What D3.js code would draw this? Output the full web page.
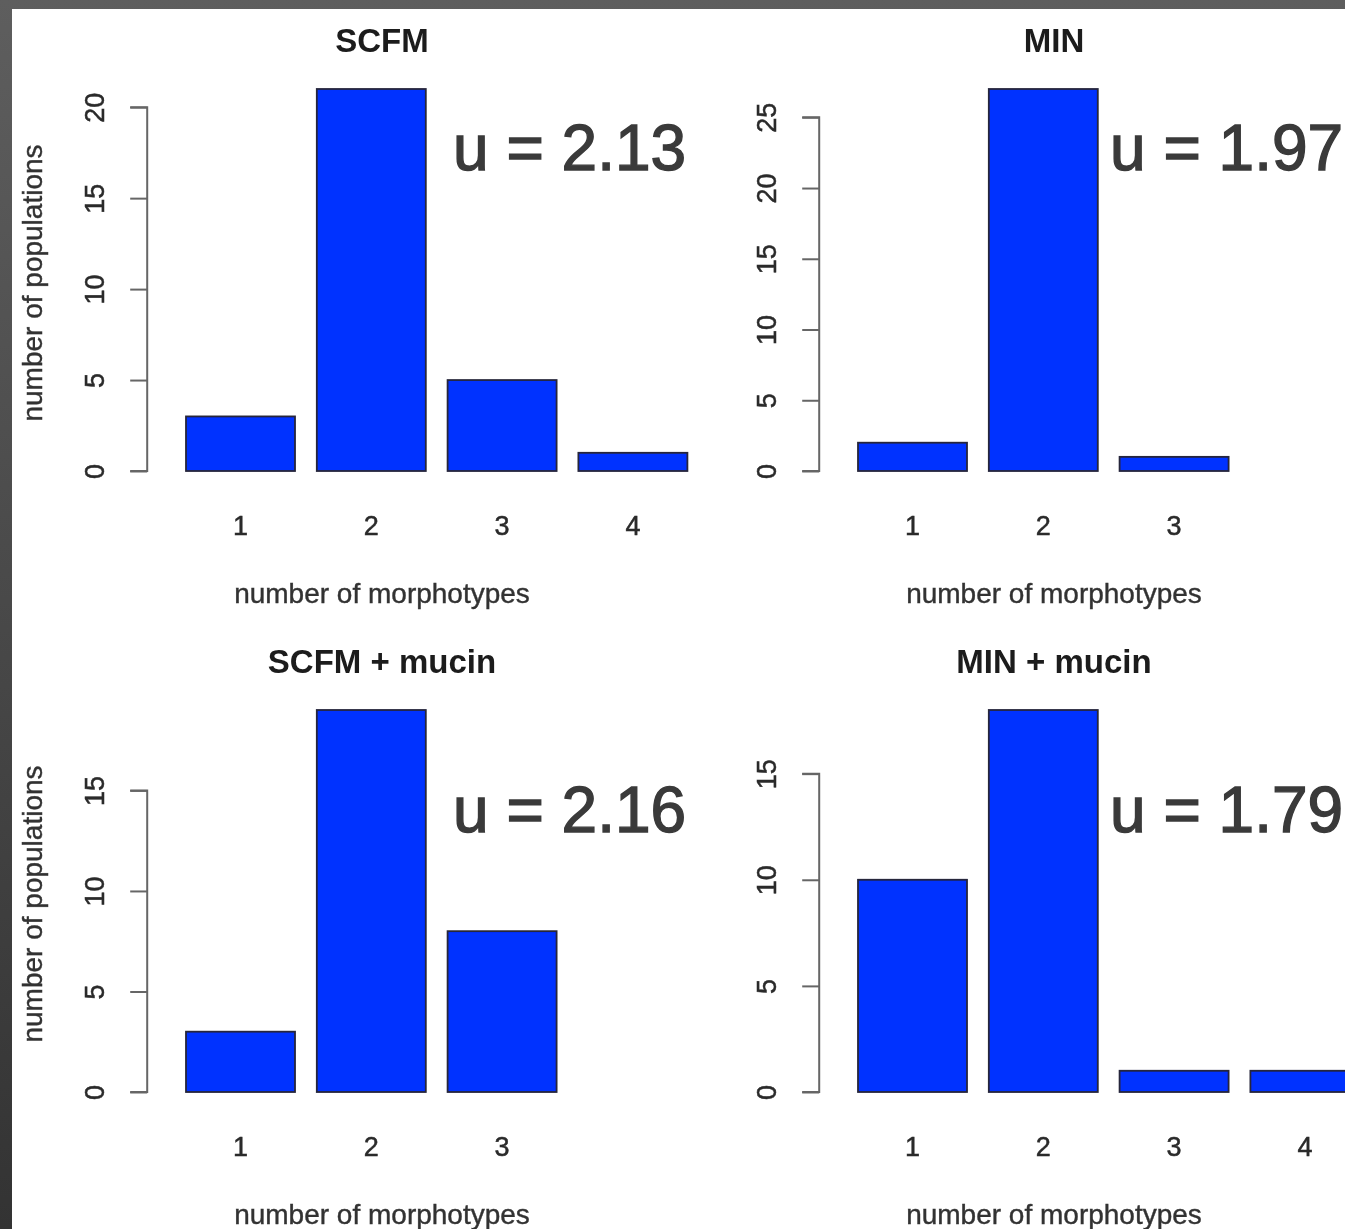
<!DOCTYPE html>
<html>
<head>
<meta charset="utf-8">
<script src="https://cdn.jsdelivr.net/npm/d3@7"></script>
<style>
  html, body { margin: 0; padding: 0; background: #444; }
  svg { display: block; }
</style>
</head>
<body>
<svg id="chart" width="1345" height="1229"></svg>
<script>
// Morphotype counts per population, one panel per growth medium
const panelTitles = ["SCFM", "MIN", "SCFM + mucin", "MIN + mucin"];
const morphotypes = [
  ["1", "2", "3", "4"],
  ["1", "2", "3"],
  ["1", "2", "3"],
  ["1", "2", "3", "4"]
];
const scfmCounts      = [3, 21, 5, 1];
const minCounts       = [2, 27, 1];
const scfmMucinCounts = [3, 19, 8];
const minMucinCounts  = [10, 18, 1, 1];
const yTicks = [
  [0, 5, 10, 15, 20],
  [0, 5, 10, 15, 20, 25],
  [0, 5, 10, 15],
  [0, 5, 10, 15]
];
const meanLabels = ["u = 2.13", "u = 1.97", "u = 2.16", "u = 1.79"];
const xTitle = "number of morphotypes";
const yTitle = "number of populations";

const counts = [scfmCounts, minCounts, scfmMucinCounts, minMucinCounts];

const svg = d3.select("#chart");
const W = 1345, H = 1229;

// dark frame behind the white sheet
const defs = svg.append("defs");
const grad = defs.append("linearGradient").attr("id", "frame")
  .attr("x1", 0).attr("y1", 0).attr("x2", 0).attr("y2", 1);
grad.append("stop").attr("offset", 0).attr("stop-color", "#5e5e5e");
grad.append("stop").attr("offset", 1).attr("stop-color", "#333333");
defs.append("filter").attr("id", "soft")
  .append("feGaussianBlur").attr("stdDeviation", 0.55);

svg.append("rect").attr("width", W).attr("height", H).attr("fill", "url(#frame)");
svg.append("rect").attr("x", 12).attr("y", 9).attr("width", W - 12).attr("height", H - 9)
  .attr("fill", "#ffffff");

// panel geometry (R barplot style: bar width 1, space 0.2)
const barUnit = 109;
const colX = [164.2, 836.2];   // x of bar-coordinate 0
const rowBase = [471, 1092];   // y of count 0
const meanBaseline = [170, 832];
const barTopPx = 382;          // height of tallest bar
const font = "'Liberation Sans', Arial, Helvetica, sans-serif";

counts.forEach((vals, p) => {
  const col = p % 2, row = Math.floor(p / 2);
  const x0 = colX[col];
  const base = rowBase[row];

  const x = d3.scaleLinear().domain([0, 1]).range([x0, x0 + barUnit]);
  const y = d3.scaleLinear().domain([0, d3.max(vals)]).range([base, base - barTopPx]);

  const g = svg.append("g").attr("filter", "url(#soft)");

  // bars
  g.selectAll("rect.bar").data(vals).join("rect")
    .attr("class", "bar")
    .attr("x", (d, i) => x(0.2 + i * 1.2))
    .attr("width", x(1) - x(0))
    .attr("y", d => y(d))
    .attr("height", d => y(0) - y(d))
    .attr("fill", "#0030ff")
    .attr("stroke", "#26263a")
    .attr("stroke-width", 1.8);

  // y axis
  const axisX = x0 - 17;
  const yAxis = d3.axisLeft(y).tickValues(yTicks[p]).tickSize(17).tickPadding(0).tickFormat(d3.format("d"));
  const ag = g.append("g").attr("transform", `translate(${axisX},0)`).call(yAxis);
  ag.select(".domain")
    .attr("d", `M-17,${y(yTicks[p][0])}H0V${y(yTicks[p][yTicks[p].length - 1])}H-17`)
    .attr("stroke", "#666").attr("stroke-width", 2).attr("fill", "none");
  ag.selectAll(".tick line").attr("stroke", "#666").attr("stroke-width", 2);
  ag.selectAll(".tick text")
    .attr("x", null).attr("dy", null)
    .attr("transform", "translate(-43,0) rotate(-90)")
    .attr("text-anchor", "middle")
    .attr("font-family", font).attr("font-size", 27).attr("fill", "#2a2a2a")
    .attr("stroke", "#2a2a2a").attr("stroke-width", 0.5);

  // category labels under bars
  g.selectAll("text.cat").data(morphotypes[p]).join("text")
    .attr("class", "cat")
    .attr("x", (d, i) => x(0.7 + i * 1.2))
    .attr("y", base + 64)
    .attr("text-anchor", "middle")
    .attr("font-family", font).attr("font-size", 27).attr("fill", "#2a2a2a")
    .attr("stroke", "#2a2a2a").attr("stroke-width", 0.5)
    .text(d => d);

  const centerX = col === 0 ? 382 : 1054;

  // panel title
  g.append("text")
    .attr("x", centerX).attr("y", base - 419)
    .attr("text-anchor", "middle")
    .attr("font-family", font).attr("font-size", 33).attr("font-weight", "bold")
    .attr("fill", "#1a1a1a")
    .text(panelTitles[p]);

  // x axis title
  g.append("text")
    .attr("x", centerX).attr("y", base + 132)
    .attr("text-anchor", "middle")
    .attr("font-family", font).attr("font-size", 28).attr("fill", "#333")
    .attr("stroke", "#333").attr("stroke-width", 0.4)
    .text(xTitle);

  // y axis title on left panels only
  if (col === 0) {
    g.append("text")
      .attr("transform", `translate(42,${base - 188}) rotate(-90)`)
      .attr("text-anchor", "middle")
      .attr("font-family", font).attr("font-size", 28).attr("fill", "#333")
      .attr("stroke", "#333").attr("stroke-width", 0.4)
      .text(yTitle);
  }

  // mean annotation
  svg.append("text")
    .attr("x", col === 0 ? 453 : 1110)
    .attr("y", meanBaseline[row])
    .attr("font-family", font).attr("font-size", 64).attr("fill", "#3a3a3a")
    .attr("stroke", "#3a3a3a").attr("stroke-width", 1.4)
    .text(meanLabels[p]);
});
</script>
</body>
</html>
